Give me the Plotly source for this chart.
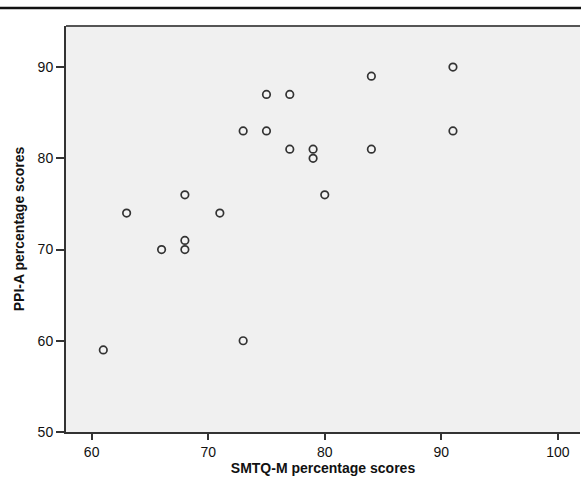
import plotly.graph_objects as go

smtq_m = [61, 63, 66, 68, 68, 68, 71, 73, 73, 75, 75, 77, 77, 79, 79, 80, 84, 84, 91, 91]
ppi_a = [59, 74, 70, 76, 71, 70, 74, 83, 60, 87, 83, 87, 81, 81, 80, 76, 89, 81, 90, 83]

x_ticks = [60, 70, 80, 90, 100]
y_ticks = [50, 60, 70, 80, 90]

fig = go.Figure()
fig.add_trace(go.Scatter(
    x=smtq_m, y=ppi_a, mode="markers",
    marker=dict(symbol="circle", size=7.5, color="#f4f4f4",
                line=dict(color="#333333", width=1.7)),
    hoverinfo="x+y", showlegend=False,
))

font_family = "Liberation Sans, Arial, sans-serif"
fig.update_layout(
    width=581, height=482,
    margin=dict(l=66, r=1, t=26, b=50),
    paper_bgcolor="white",
    plot_bgcolor="#f0f0f0",
    font=dict(family=font_family, color="#111111"),
    xaxis=dict(
        range=[57.8, 101.9], tickvals=x_ticks, ticktext=[str(v) for v in x_ticks],
        showgrid=False, zeroline=False,
        showline=True, linecolor="#333333", linewidth=2,
        ticks="outside", ticklen=6, tickwidth=1.5, tickcolor="#333333",
        tickfont=dict(size=14, color="#111111"),
        title=dict(text="<b>SMTQ-M percentage scores</b>", font=dict(size=14, color="#111111"), standoff=4),
        mirror=False,
    ),
    yaxis=dict(
        range=[50, 94.5], tickvals=y_ticks, ticktext=[str(v) for v in y_ticks],
        showgrid=False, zeroline=False,
        showline=True, linecolor="#333333", linewidth=2,
        ticks="outside", ticklen=8, tickwidth=1.5, tickcolor="#333333",
        tickfont=dict(size=14, color="#111111"),
        title=dict(text="<b>PPI-A percentage scores</b>", font=dict(size=14, color="#111111"), standoff=10),
    ),
    shapes=[
        dict(type="line", xref="paper", yref="paper", x0=0, x1=1, y0=1, y1=1,
             line=dict(color="#555555", width=2)),
        dict(type="line", xref="paper", yref="paper", x0=-66/514, x1=1.01, y0=1 + 18/406, y1=1 + 18/406,
             line=dict(color="#111111", width=2.5)),
    ],
)

fig.write_html("out.html", config={"displayModeBar": False},
               post_script="document.body.style.margin='0';document.body.style.overflow='hidden';")
